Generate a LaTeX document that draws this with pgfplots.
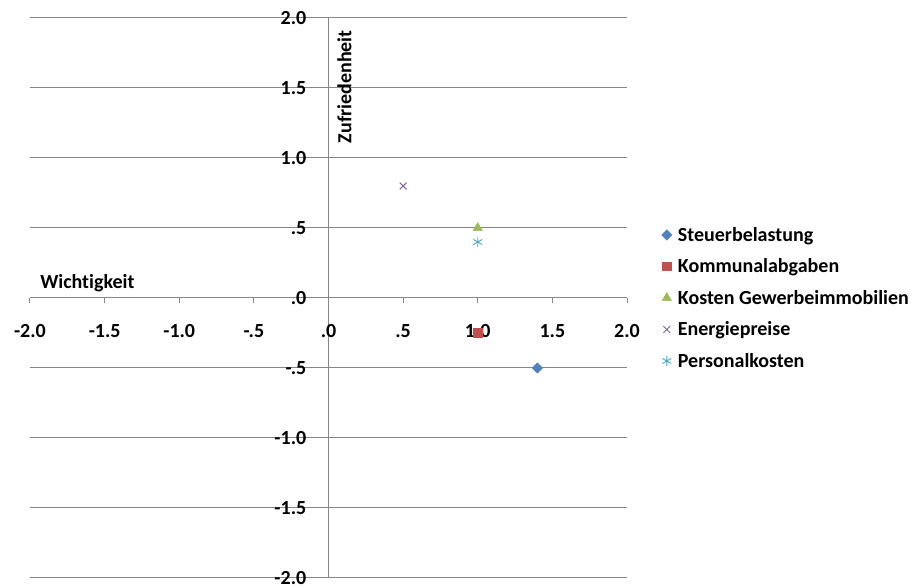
\documentclass[border=0pt]{standalone}
\usepackage{pgfplots}
\pgfplotsset{compat=1.18}
\usepackage{fontspec}
\setmainfont{Carlito}[Ligatures=NoCommon]
\definecolor{gridgray}{RGB}{134,134,134}
\definecolor{cBlue}{RGB}{79,129,189}
\definecolor{cRed}{RGB}{192,80,77}
\definecolor{cGreen}{RGB}{155,187,89}
\definecolor{cPurple}{RGB}{128,100,162}
\definecolor{cCyan}{RGB}{75,172,198}
\newcommand{\lblfont}{\bfseries\fontsize{15}{18}\selectfont}
\begin{document}
\begin{tikzpicture}
\useasboundingbox (-22.5pt,-7.5pt) rectangle (662.25pt,433.5pt);
\begin{axis}[
  at={(0,0)}, anchor=south west,
  scale only axis,
  width=447.75pt, height=420pt,
  xmin=-2, xmax=2, ymin=-2, ymax=2,
  axis lines=center,
  axis line style={gridgray, line width=0.75pt, -},
  hide obscured x ticks=false, hide obscured y ticks=false,
  xtick={-2,-1.5,-1,-0.5,0,0.5,1,1.5,2},
  xticklabels={-2.0,-1.5,-1.0,-.5,.0,.5,1.0,1.5,2.0},
  ytick={-2,-1.5,-1,-0.5,0,0.5,1,1.5,2},
  yticklabels={-2.0,-1.5,-1.0,-.5,.0,.5,1.0,1.5,2.0},
  x tick style={gridgray, line width=0.75pt},
  y tick style={draw=none},
  tick align=outside,
  major tick length=4pt,
  ymajorgrids,
  grid style={gridgray, line width=0.75pt},
  tick label style={font=\lblfont, text=black, inner sep=0pt},
  xticklabel style={anchor=center, yshift=-21pt},
  yticklabel style={anchor=east, xshift=-12.5pt},
  clip=false,
  legend style={at={(rel axis cs:1.051,0.5)}, anchor=west, draw=none,
    font=\lblfont, row sep=8.6pt, column sep=3pt,
    nodes={inner sep=1.5pt}},
  legend cell align=left,
]
\addplot[only marks, mark=square*, mark size=2.7pt, color=cBlue, mark options={fill=cBlue, rotate=45}] coordinates {(1.4,-0.5)};
\addlegendentry{Steuerbelastung}
\addplot[only marks, mark=square*, mark size=3.2pt, color=cRed, mark options={fill=cRed}] coordinates {(1.0,-0.25)};
\addlegendentry{Kommunalabgaben}
\addplot[only marks, mark=triangle*, mark size=4pt, color=cGreen, mark options={fill=cGreen}] coordinates {(1.0,0.5)};
\addlegendentry{Kosten Gewerbeimmobilien}
\addplot[only marks, mark=x, mark size=3.6pt, color=cPurple, mark options={line width=0.7pt}] coordinates {(0.5,0.8)};
\addlegendentry{Energiepreise}
\addplot[only marks, mark=asterisk, mark size=3.8pt, color=cCyan, mark options={line width=0.7pt}] coordinates {(1.0,0.4)};
\addlegendentry{Personalkosten}
\node[anchor=south west, font=\lblfont, inner sep=0pt] at ([xshift=7.5pt,yshift=4.5pt]rel axis cs:0,0.5) {Wichtigkeit};
\node[anchor=east, rotate=90, font=\lblfont, inner sep=0pt] at ([xshift=12pt,yshift=-9pt]rel axis cs:0.5,1) {Zufriedenheit};
\end{axis}
\end{tikzpicture}
\end{document}
